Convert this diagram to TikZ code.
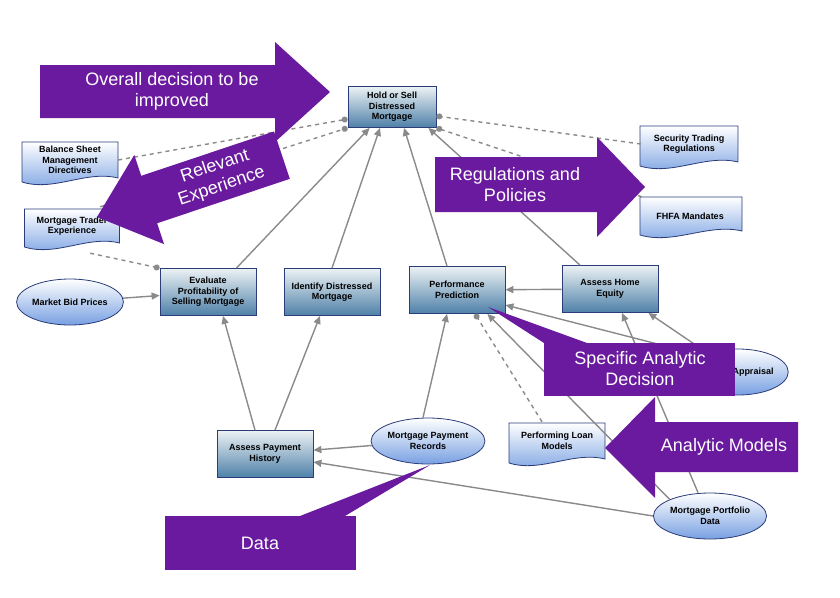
\documentclass[tikz,border=0pt]{standalone}
\usepackage{fontspec}
\setmainfont{Liberation Sans}
\usetikzlibrary{arrows.meta,positioning,shapes.geometric,calc}
\definecolor{callpurple}{RGB}{106,26,158}
\definecolor{boxtop}{RGB}{236,242,244}
\definecolor{boxbot}{RGB}{78,128,168}
\definecolor{docbot}{RGB}{120,160,226}
\definecolor{edgegray}{RGB}{138,138,138}
\definecolor{rim}{RGB}{44,60,120}

\tikzset{
  dec/.style={rectangle, draw=rim, thick, top color=boxtop, bottom color=boxbot,
    minimum width=96pt, minimum height=47pt, align=center, font=\bfseries\fontsize{9}{10.5}\selectfont, inner sep=1pt},
  data/.style={ellipse, draw=rim, thick, top color=white, bottom color=docbot,
    minimum width=97pt, minimum height=46pt, align=center, font=\bfseries\fontsize{9}{10.5}\selectfont, inner sep=0pt},
  doc/.style={rectangle, minimum width=96pt, minimum height=38pt, align=center,
    font=\bfseries\fontsize{9}{10.5}\selectfont, inner sep=1pt},
  infl/.style={-{Triangle[length=8pt,width=7pt]}, edgegray, line width=1.4pt},
  rel/.style={-{Circle[length=6pt]}, edgegray, line width=1.4pt, dash pattern=on 4pt off 4pt},
  call/.style={fill=callpurple, draw=none},
  calltext/.style={text=white, font=\fontsize{18}{21}\selectfont, align=center}
}
% wavy document outline: centre x, centre y, width, height
\newcommand\docshape[4]{%
  \shade[top color=white, bottom color=docbot, draw=rim, thick]
    (#1-#3/2,#2-#4/2) -- (#1-#3/2,#2+#4/2)
    .. controls +(#3/3,10) and +(-#3/3,-8) .. (#1+#3/2,#2+#4/2-4)
    -- (#1+#3/2,#2-#4/2) -- cycle;}

\begin{document}
\begin{tikzpicture}[x=1pt,y=-1pt]
\useasboundingbox[fill=white] (0,0) rectangle (840,597);

% document outlines
\docshape{70}{162}{96}{40}
\docshape{72}{228}{95}{38}
\docshape{689}{146}{98}{40}
\docshape{691}{216}{102}{38}
\docshape{557}{443}{96}{40}

% decision nodes
\node[dec, minimum width=88pt, minimum height=41pt] (hold) at (392,107) {Hold or Sell\\Distressed\\Mortgage};
\node[dec] (eval) at (208,292) {Evaluate\\Profitability of\\Selling Mortgage};
\node[dec] (ident) at (332,292) {Identify Distressed\\Mortgage};
\node[dec] (perf) at (457,290) {Performance\\Prediction};
\node[dec] (equity) at (610,289) {Assess Home\\Equity};
\node[dec] (payhist) at (265,454) {Assess Payment\\History};

% data nodes
\node[data] (market) at (70,302) {Market Bid Prices};
\node[data] (records) at (428,441) {Mortgage Payment\\Records};
\node[data] (apprais) at (738,372) {\hspace*{30pt}Appraisal};
\node[data] (portf) at (710,516) {Mortgage Portfolio\\Data};

% document nodes
\node[doc] (balance) at (70,160) {Balance Sheet\\Management\\Directives};
\node[doc] (trader) at (72,226) {Mortgage Trader\\Experience};
\node[doc] (secreg) at (689,144) {Security Trading\\Regulations};
\node[doc] (fhfa) at (690,216) {FHFA Mandates};
\node[doc] (loan) at (557,441) {Performing Loan\\Models};

% influences
\draw[infl] (eval.north east) ++(-20,0) -- ($(hold.south west)+(22,0)$);
\draw[infl] (ident.north) -- ($(hold.south)+(-12,0)$);
\draw[infl] ($(perf.north)+(-10,0)$) -- ($(hold.south)+(12,0)$);
\draw[infl] ($(equity.north)+(-30,0)$) -- ($(hold.south east)+(-8,0)$);
\draw[infl] (market) -- (eval);
\draw[infl] ($(payhist.north)+(-10,0)$) -- ($(eval.south)+(15,0)$);
\draw[infl] ($(payhist.north)+(10,0)$) -- ($(ident.south)+(-12,0)$);
\draw[infl] (records) -- (payhist);
\draw[infl] ($(records.north)+(-5,0)$) -- ($(perf.south)+(-10,0)$);
\draw[infl] (portf.west) -- ($(payhist.east)+(0,8)$);
\draw[infl] (equity) -- (perf);
\draw[infl] (portf.north west) -- ($(perf.south east)+(-18,0)$);
\draw[infl] (apprais.north west) -- ($(perf.east)+(0,15)$);
\draw[infl] ($(portf.north)+(-12,0)$) -- ($(equity.south)+(12,0)$);
\draw[infl] ($(apprais.north)+(-40,-2)$) -- ($(equity.south east)+(-10,0)$);

% relevances
\draw[rel] (balance.east) -- ($(hold.west)+(0,12)$);
\draw[rel] ($(trader.north east)+(-20,0)$) -- (hold.south west);
\draw[rel] ($(trader.south east)+(-30,8)$) -- (eval.north west);
\draw[rel] (secreg.west) -- ($(hold.east)+(0,9)$);
\draw[rel] (fhfa.north west) -- (hold.south east);
\draw[rel] ($(loan.north)+(-15,0)$) -- ($(perf.south)+(18,0)$);

% callouts
\fill[call] (40,65) -- (275,65) -- (275,42) -- (330,92) -- (275,142) -- (275,118) -- (40,118) -- cycle;
\node[calltext] (tOverall) at (172,91) {Overall decision to be\\improved};

\begin{scope}[shift={(97,217)}, rotate=18.5]
  \fill[call] (0,0) -- (55,-47) -- (55,-25) -- (195,-25) -- (195,25) -- (55,25) -- (55,47) -- cycle;
  \node[calltext, rotate=18.5] (tRelevant) at (128,0) {Relevant\\Experience};
\end{scope}

\fill[call] (435,157) -- (597,157) -- (597,137) -- (645,187) -- (597,237) -- (597,212) -- (435,212) -- cycle;
\node[calltext] (tRegs) at (515,185) {Regulations and\\Policies};

\fill[call] (488,307) -- (587,343) -- (544,343) -- cycle;
\fill[call] (544,343) rectangle (735,396);
\node[calltext] (tSpecific) at (640,369) {Specific Analytic\\Decision};

\fill[call] (798,422) -- (655,422) -- (655,397) -- (605,448) -- (655,498) -- (655,472) -- (798,472) -- cycle;
\node[calltext] (tModels) at (724,447) {Analytic Models};

\fill[call] (430,465) -- (345,516) -- (300,516) -- cycle;
\fill[call] (165,516) rectangle (356,570);
\node[calltext] (tData) at (260,543) {Data};
\end{tikzpicture}
\end{document}
